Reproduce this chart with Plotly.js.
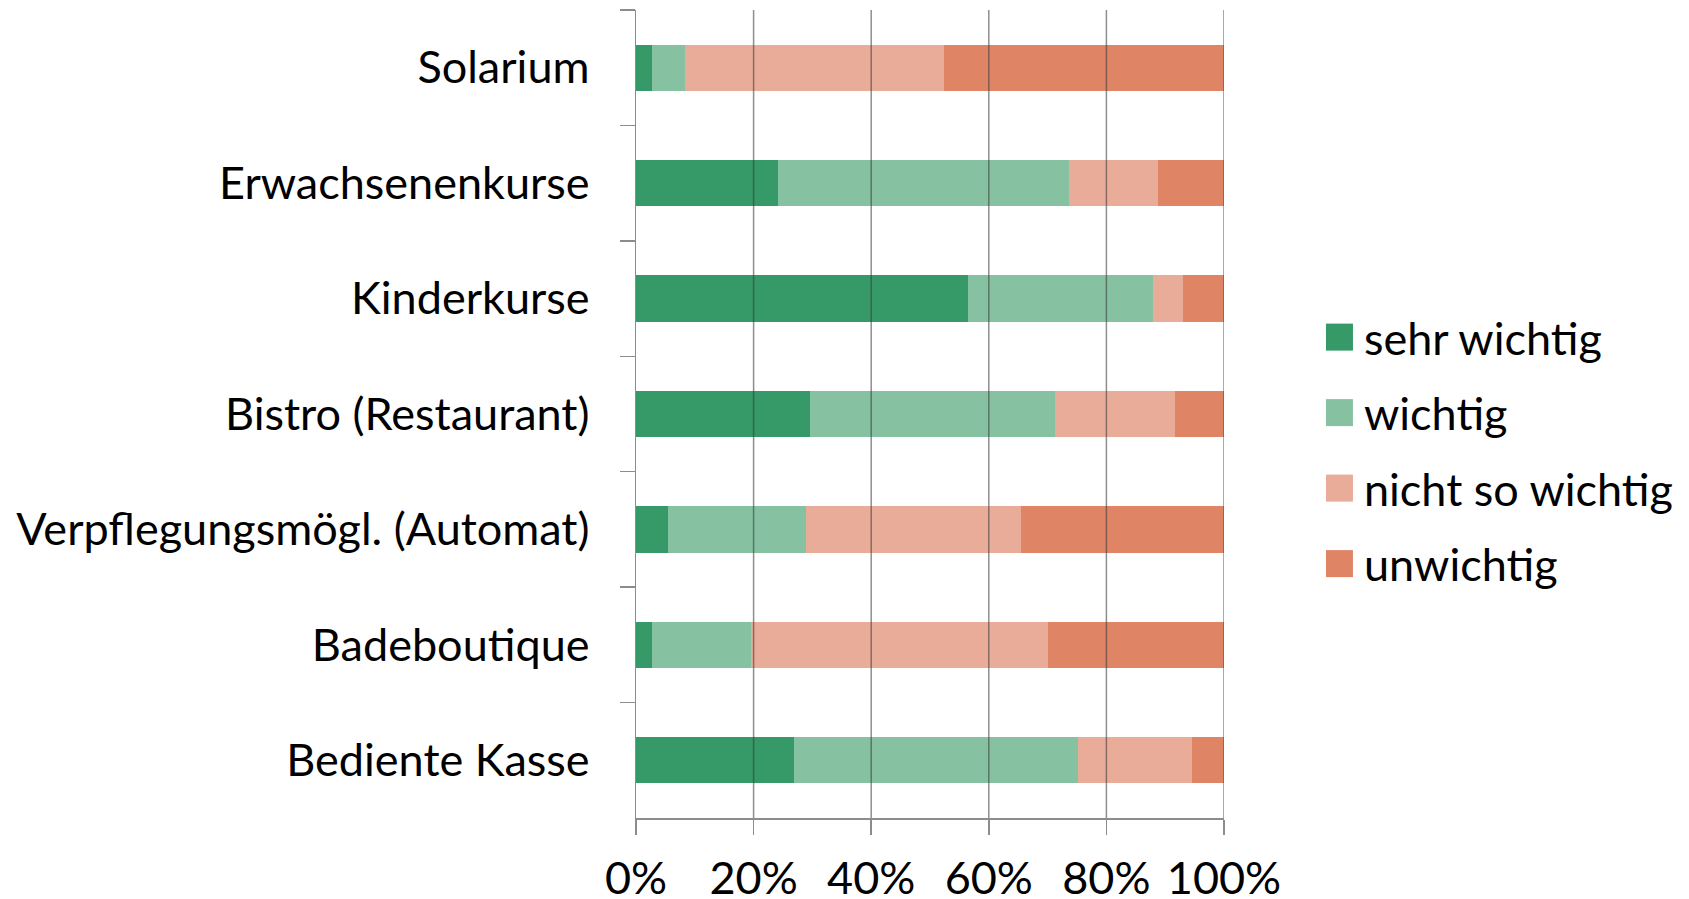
<!DOCTYPE html>
<html>
<head>
<meta charset="utf-8">
<script src="https://cdn.plot.ly/plotly-3.0.1.min.js"></script>
<style>html,body{margin:0;padding:0;background:#fff;}#chart{width:1689px;height:899px;}</style>
</head>
<body>
<div id="chart"></div>
<script>
// Categories, top to bottom
const categories = ["Solarium", "Erwachsenenkurse", "Kinderkurse", "Bistro (Restaurant)",
  "Verpflegungsmögl. (Automat)", "Badeboutique", "Bediente Kasse"];
const seriesNames = ["sehr wichtig", "wichtig", "nicht so wichtig", "unwichtig"];
const sehrWichtig    = [0.027, 0.242, 0.565, 0.296, 0.055, 0.027, 0.268];
const wichtig        = [0.057, 0.495, 0.314, 0.417, 0.234, 0.169, 0.483];
const nichtSoWichtig = [0.440, 0.151, 0.051, 0.204, 0.365, 0.505, 0.194];
const unwichtig      = [0.476, 0.112, 0.070, 0.083, 0.346, 0.299, 0.055];
const xTickVals = [0, 0.2, 0.4, 0.6, 0.8, 1.0];

const colors = ["#359968", "#86c1a2", "#e9ac98", "#e08466"];
const values = [sehrWichtig, wichtig, nichtSoWichtig, unwichtig];

const FONT = "Lato, 'Open Sans', sans-serif";

const traces = values.map((v, i) => ({
  type: "bar",
  orientation: "h",
  name: seriesNames[i],
  legendgroup: "g" + i,
  y: categories,
  x: v,
  marker: {color: colors[i], line: {width: 0}},
  hoverinfo: "name+x"
}));

const gridShapes = xTickVals.slice(1).map(v => ({
  type: "line", xref: "x", yref: "paper", x0: v, x1: v, y0: 0, y1: 1,
  line: {color: "rgba(60,60,60,0.58)", width: 1.5}, layer: "above"
}));

const layout = {
  width: 1689, height: 899,
  margin: {l: 635.5, r: 465.3, t: 10, b: 80.7},
  barmode: "stack",
  bargap: 0.6,
  paper_bgcolor: "#fff", plot_bgcolor: "#fff",
  font: {family: FONT, size: 45, color: "#000"},
  showlegend: true,
  legend: {
    x: 1.17, xanchor: "left", y: 0.455, yanchor: "middle",
    font: {family: FONT, size: 45, color: "#000"},
    traceorder: "grouped", tracegroupgap: 14, itemwidth: 30
  },
  xaxis: {
    range: [0, 1], tickvals: xTickVals, tickformat: ".0%",
    showgrid: false, zeroline: false,
    showline: true, linecolor: "#8c8c8c", linewidth: 1.5,
    ticks: "outside", ticklen: 15, tickcolor: "#8c8c8c", tickwidth: 1.5,
    ticklabelstandoff: 5,
    tickfont: {family: FONT, size: 45, color: "#000"},
    fixedrange: true
  },
  yaxis: {
    type: "category", autorange: "reversed",
    showgrid: false, zeroline: false,
    showline: true, linecolor: "#8c8c8c", linewidth: 1.5,
    ticks: "outside", ticklen: 15, tickcolor: "#8c8c8c", tickwidth: 1.5,
    tickson: "boundaries",
    ticklabelstandoff: 36,
    tickfont: {family: FONT, size: 45, color: "#000"},
    fixedrange: true
  },
  shapes: gridShapes
};

Plotly.newPlot("chart", traces, layout, {displayModeBar: false, staticPlot: true}).then(gd => {
  gd.querySelectorAll(".legend [clip-path]").forEach(e => e.removeAttribute("clip-path"));
  gd.querySelectorAll(".legend .legendpoints path").forEach(p => {
    p.removeAttribute("transform");
    p.setAttribute("d", "M29,13.5H2V-13.5H29Z");
  });
});
</script>
</body>
</html>
